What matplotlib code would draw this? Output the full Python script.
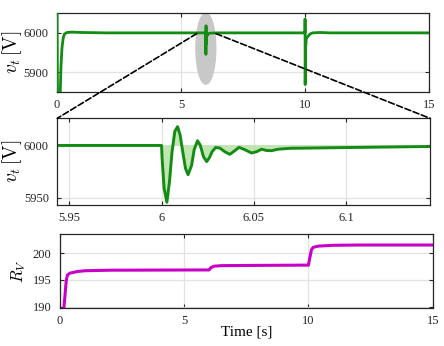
import matplotlib
matplotlib.use('Agg')
import matplotlib.pyplot as plt
from matplotlib.patches import Ellipse, ConnectionPatch

plt.rcParams['font.family'] = ['Liberation Serif', 'DejaVu Serif']
plt.rcParams['mathtext.fontset'] = 'cm'

# terminal voltage v_t [V]
t_v = [0.0, 0.02, 0.1, 0.13, 0.16, 0.2, 0.25, 0.3, 0.4, 0.6, 1.0, 2.0,
       6.0, 6.0003, 6.0014, 6.0029, 6.0043, 6.0057, 6.0072, 6.0087, 6.0101,
       6.0115, 6.0130, 6.0144, 6.0163, 6.0177, 6.0195, 6.0209, 6.0228,
       6.0245, 6.0260, 6.0274, 6.0293, 6.0316, 6.0343, 6.0370, 6.0397,
       6.0420, 6.0451, 6.0488, 6.0515, 6.0542, 6.0569, 6.0596, 6.0632,
       6.0677, 6.0700, 6.08, 6.1, 6.145, 6.3, 6.5,
       9.999, 10.0, 10.004, 10.02, 10.05, 10.1, 10.2, 10.3, 10.6, 11.0, 15.0]
v_t = [6100, 5800, 5800, 5850, 5915, 5962, 5987, 5997, 6001, 6002, 6001, 6000,
       6000, 5988, 5959, 5945.6, 5965, 5994, 6013.5, 6018, 6010,
       5994, 5978, 5972, 5981, 5996, 6004.5, 6000.7, 5989,
       5984.6, 5988.5, 5994, 5998, 5997.5, 5994, 5991.5, 5995,
       5998.2, 5996, 5992.8, 5994, 5996.4, 5995.2, 5995, 5996.4,
       5997, 5997.3, 5997.5, 5998, 5999, 5999.6, 6000,
       6000, 6035, 5869, 5960, 5985, 5990, 5997, 6000, 6001, 6000, 6000]

# virtual resistance R_V
t_r = [0.12, 0.2, 0.25, 0.3, 0.4, 0.7, 1.0, 2.0, 6.0, 6.08, 6.2, 6.5, 8.0,
       10.0, 10.05, 10.12, 10.19, 10.4, 11.0, 12.0, 15.0]
r_v = [188.0, 192.0, 194.8, 195.9, 196.25, 196.55, 196.7, 196.8, 196.85,
       197.3, 197.55, 197.65, 197.7, 197.75, 199.0, 200.6, 201.07, 201.3,
       201.45, 201.5, 201.5]

green = '#128c12'
magenta = '#c800c8'
grid_c = '#e3e3e3'
spine_c = '#262626'

fig = plt.figure(figsize=(4.44, 3.46), dpi=100)
ax1 = fig.add_axes([0.1284, 0.734, 0.838, 0.228])
ax2 = fig.add_axes([0.129, 0.4075, 0.8394, 0.2506])
ax3 = fig.add_axes([0.1351, 0.1107, 0.8394, 0.2121])


def style(ax):
    ax.grid(True, color=grid_c, lw=0.9)
    ax.set_axisbelow(True)
    ax.tick_params(direction='in', top=True, right=True, length=3,
                   labelsize=9, colors=spine_c, width=0.8)
    ax.tick_params(axis='y', pad=6)
    ax.tick_params(axis='x', pad=5)
    for s in ax.spines.values():
        s.set_color(spine_c)
        s.set_linewidth(0.9)


# top: full run
ax1.add_patch(Ellipse((6.0, 5960), 0.8, 180, color='#c8c8c8', zorder=1))
ax1.plot(t_v, v_t, color=green, lw=2.0, zorder=3)
ax1.set_xlim(0, 15)
ax1.set_ylim(5850, 6050)
ax1.set_xticks([0, 5, 10, 15])
ax1.set_yticks([5900, 6000])
ax1.set_ylabel(r'$v_t\,[\mathrm{V}]$', fontsize=14)
ax1.yaxis.set_label_coords(-0.09, 0.5)
style(ax1)

# middle: zoom around 6 s
ax2.fill_between(t_v, v_t, 6000, color='#a8dc90', alpha=0.7, lw=0)
ax2.plot(t_v, v_t, color=green, lw=2.1)
ax2.set_xlim(5.9435, 6.1455)
ax2.set_ylim(5943, 6026)
ax2.set_xticks([5.95, 6, 6.05, 6.1])
ax2.set_xticklabels(['5.95', '6', '6.05', '6.1'])
ax2.set_yticks([5950, 6000])
ax2.set_ylabel(r'$v_t\,[\mathrm{V}]$', fontsize=14)
ax2.yaxis.set_label_coords(-0.09, 0.5)
style(ax2)

# bottom: R_V
ax3.plot(t_r, r_v, color=magenta, lw=2.2)
ax3.set_xlim(0, 15)
ax3.set_ylim(189.8, 203.5)
ax3.set_xticks([0, 5, 10, 15])
ax3.set_yticks([190, 195, 200])
ax3.set_ylabel(r'$R_V$', fontsize=12)
ax3.yaxis.set_label_coords(-0.086, 0.5)
ax3.set_xlabel('Time [s]', fontsize=11, labelpad=-1)
style(ax3)

# dashed zoom connectors
for xa, xb in [(5.63, 0.0), (6.41, 1.0)]:
    con = ConnectionPatch(xyA=(xa, 5998), coordsA=ax1.transData,
                          xyB=(xb, 1.0), coordsB=ax2.transAxes,
                          color='black', ls='--', lw=1.2, zorder=5)
    fig.add_artist(con)

fig.savefig('out.png', dpi=100)
